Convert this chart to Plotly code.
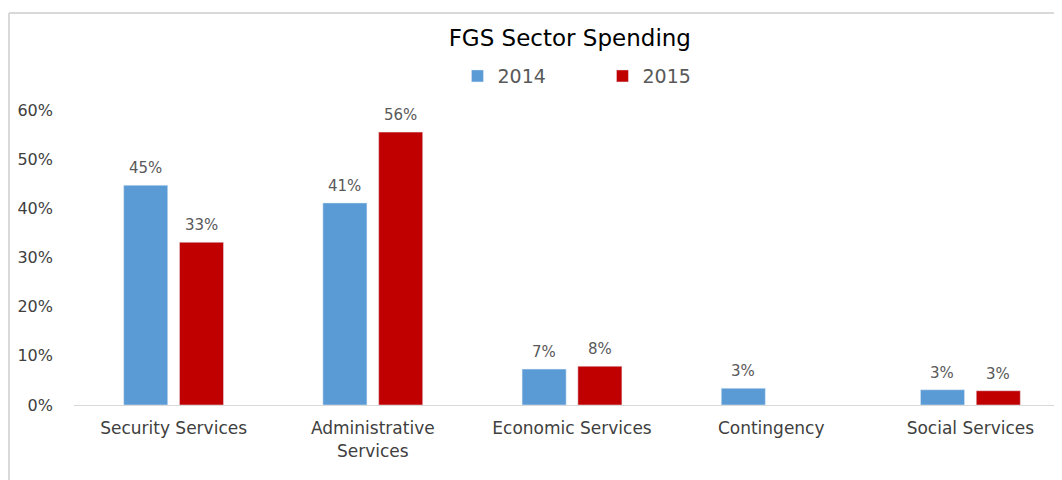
import plotly.graph_objs as go

categories = ['Security Services', 'Administrative<br>Services', 'Economic Services',
              'Contingency', 'Social Services']
spend_2014 = [0.447, 0.411, 0.073, 0.034, 0.031]
spend_2015 = [0.331, 0.555, 0.079, None, 0.029]
y_ticks = [0, 0.1, 0.2, 0.3, 0.4, 0.5, 0.6]

BLUE = '#5B9BD5'
RED = '#C00000'
FONT = 'DejaVu Sans'

fig = go.Figure()
fig.add_trace(go.Bar(x=categories, y=spend_2014, name='2014', marker_color=BLUE))
fig.add_trace(go.Bar(x=categories, y=spend_2015, name='2015', marker_color=RED))

# data labels above each bar
for vals, shift in ((spend_2014, -28), (spend_2015, 28)):
    for cat, v in zip(categories, vals):
        if v is None:
            continue
        fig.add_annotation(x=cat, y=v, text=f'{v:.0%}', showarrow=False,
                           xshift=shift, yshift=6, yanchor='bottom',
                           font=dict(family=FONT, size=15, color='#595959'))

# chart frame (cut off at right and bottom like the screenshot)
fig.add_shape(type='line', xref='paper', yref='paper',
              x0=-0.0653, x1=1.1, y0=1.329, y1=1.329,
              line=dict(color='#d9d9d9', width=2))
fig.add_shape(type='line', xref='paper', yref='paper',
              x0=-0.0653, x1=-0.0653, y0=1.329, y1=-0.4,
              line=dict(color='#d9d9d9', width=2))

fig.update_layout(
    width=1062, height=480,
    margin=dict(l=66, r=0, t=102, b=83),
    paper_bgcolor='white', plot_bgcolor='white',
    barmode='group', bargap=0.44, bargroupgap=0.21,
    font=dict(family=FONT, color='#404040'),
    title=dict(text='FGS Sector Spending', x=0.529, xanchor='center',
               y=0.9375, yanchor='middle',
               font=dict(family=FONT, size=23, color='#000000')),
    legend=dict(orientation='h', x=0.385, xanchor='left', y=1.115, yanchor='middle',
                entrywidth=100, font=dict(family=FONT, size=19, color='#595959')),
    showlegend=True,
)
fig.update_xaxes(range=[-0.5, 4.5], showgrid=False, showline=True,
                 linecolor='#d9d9d9', linewidth=1, ticks='',
                 automargin=False, ticklabelstandoff=8,
                 tickfont=dict(family=FONT, size=17, color='#404040'))
fig.update_yaxes(range=[0, 0.6], tickvals=y_ticks, tickformat='.0%',
                 showgrid=False, zeroline=False, showline=False,
                 automargin=False, ticklabelstandoff=20,
                 tickfont=dict(family=FONT, size=16, color='#404040'))

fig.write_html('out.html')
